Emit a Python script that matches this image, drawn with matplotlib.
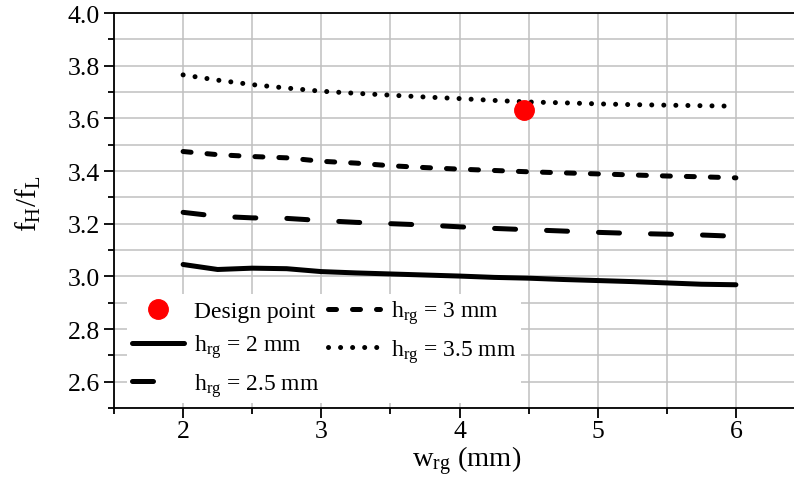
import matplotlib
matplotlib.use("Agg")
import matplotlib.pyplot as plt
from matplotlib.ticker import MultipleLocator, FormatStrFormatter

plt.rcParams['font.family'] = ['Liberation Serif', 'DejaVu Serif']
plt.rcParams['mathtext.fontset'] = 'custom'
plt.rcParams['mathtext.rm'] = 'Liberation Serif'
plt.rcParams['mathtext.it'] = 'Liberation Serif:italic'

w_rg = [2, 2.25, 2.5, 2.75, 3, 3.25, 3.5, 3.75, 4, 4.25, 4.5, 4.75, 5, 5.25, 5.5, 5.75, 6]
h20 = [3.045, 3.026, 3.031, 3.029, 3.018, 3.013, 3.009, 3.005, 3.001, 2.996, 2.993, 2.988,
       2.984, 2.980, 2.975, 2.970, 2.968]
h25 = [3.243, 3.228, 3.222, 3.220, 3.212, 3.205, 3.200, 3.195, 3.188, 3.182, 3.177, 3.172,
       3.167, 3.163, 3.160, 3.157, 3.152]
h30 = [3.474, 3.462, 3.455, 3.450, 3.437, 3.430, 3.420, 3.413, 3.407, 3.402, 3.397, 3.393,
       3.389, 3.385, 3.381, 3.378, 3.374]
h35 = [3.765, 3.745, 3.728, 3.715, 3.703, 3.695, 3.688, 3.681, 3.675, 3.668, 3.662, 3.659,
       3.655, 3.652, 3.650, 3.648, 3.646]
design_x = [4.467]
design_y = [3.632]

labels = [r'h$_\mathrm{rg}$ = 2 mm', r'h$_\mathrm{rg}$ = 2.5 mm',
          r'h$_\mathrm{rg}$ = 3 mm', r'h$_\mathrm{rg}$ = 3.5 mm']

W, H = 794, 481
fig = plt.figure(figsize=(W / 100, H / 100), dpi=100)
left, right, top, bottom = 114, 805, 14, 409
ax = fig.add_axes([left / W, 1 - bottom / H, (right - left) / W, (bottom - top) / H])

ax.set_xlim(1.5, 6.5)
ax.set_ylim(2.5, 4.0)
ax.xaxis.set_major_locator(MultipleLocator(1))
ax.xaxis.set_minor_locator(MultipleLocator(0.5))
ax.yaxis.set_major_locator(MultipleLocator(0.2))
ax.yaxis.set_minor_locator(MultipleLocator(0.1))
ax.yaxis.set_major_formatter(FormatStrFormatter('%.1f'))

ax.grid(True, which='both', color='#c0c0c0', lw=1.1, zorder=0)
ax.set_axisbelow(True)

lw = 3.6
p2, = ax.plot(w_rg, h20, color='black', lw=lw, solid_capstyle='round', solid_joinstyle='round', label=labels[0])
p25, = ax.plot(w_rg, h25, color='black', lw=lw, dash_capstyle='round', dashes=(4.2, 6.2), label=labels[1])
p3, = ax.plot(w_rg, h30, color='black', lw=lw, dash_capstyle='round', dashes=(1.6, 3.2), label=labels[2])
p35, = ax.plot(w_rg, h35, color='black', lw=lw, dash_capstyle='round', dashes=(0.01, 2.4), label=labels[3])
pd, = ax.plot(design_x, design_y, 'o', color='red', ms=14, mec='red', label='Design point', zorder=5)

for s in ['left', 'bottom', 'top']:
    ax.spines[s].set_linewidth(1.3)
ax.spines['right'].set_visible(False)

ax.tick_params(axis='both', which='major', direction='out', length=7, width=1.3, labelsize=18.5, color='black')
ax.tick_params(axis='both', which='minor', direction='out', length=4, width=1.3)
ax.tick_params(axis='x', which='major', pad=1.5)
ax.tick_params(axis='y', which='major', pad=3)

ax.set_xlabel(r'w$_\mathrm{rg}$ (mm)', fontsize=20.5)
ax.xaxis.label.set_va('top')
ax.xaxis.set_label_coords((467 - left) / (right - left), -(444 - bottom) / (bottom - top))
ax.set_ylabel(r'f$_\mathrm{H}$/f$_\mathrm{L}$', fontsize=21)
ax.yaxis.label.set_va('center')
ax.yaxis.set_label_coords((28 - left) / (right - left), (bottom - 204) / (bottom - top))

leg = ax.legend(handles=[pd, p2, p25, p3, p35], ncol=2, loc='lower left',
                bbox_to_anchor=(0.019, 0.012), borderaxespad=0, fontsize=17,
                frameon=True, fancybox=False, framealpha=1, edgecolor='none',
                handlelength=2.2, handletextpad=0.45, columnspacing=0.35,
                labelspacing=0.44, borderpad=0.2)
leg.get_frame().set_linewidth(0)

fig.savefig('out.png', dpi=100)
